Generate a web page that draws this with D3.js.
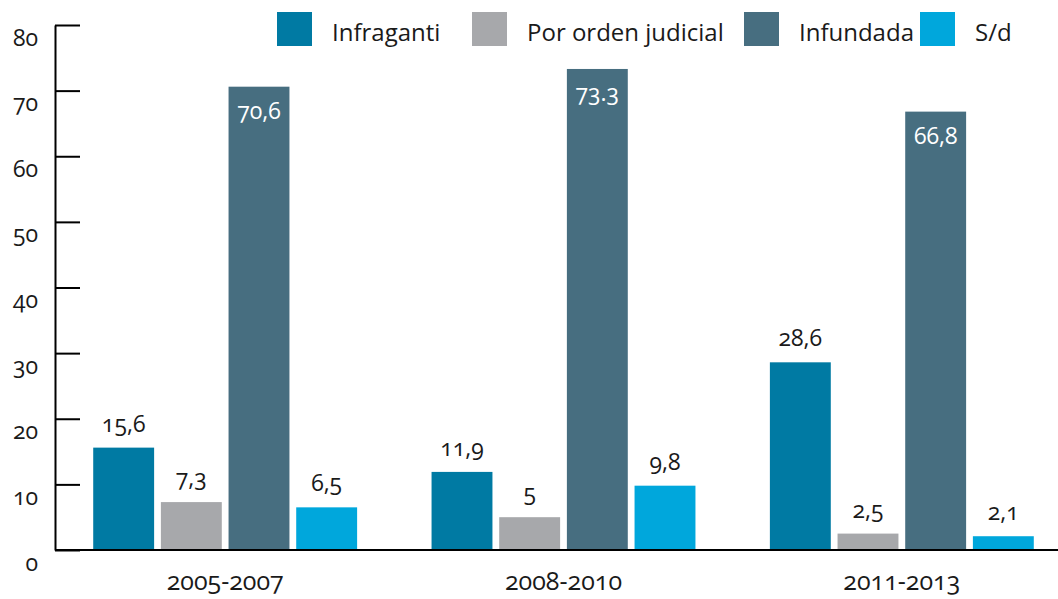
<!DOCTYPE html>
<html>
<head>
<meta charset="utf-8">
<script src="https://cdn.jsdelivr.net/npm/d3@7"></script>
<style>
body { margin: 0; background: #fff; }
text { font-family: "Open Sans", sans-serif; font-variant-numeric: oldstyle-nums; }
</style>
</head>
<body>
<script>
// data
var periods = ["2005-2007", "2008-2010", "2011-2013"];
var seriesNames = ["Infraganti", "Por orden judicial", "Infundada", "S/d"];
var seriesColors = ["#007aa3", "#a7a8ab", "#476e80", "#00a7dc"];
var infraganti = [15.6, 11.9, 28.6];
var porOrden = [7.3, 5, 2.5];
var infundada = [70.6, 73.3, 66.8];
var sinDato = [6.5, 9.8, 2.1];
var valueLabels = [
    ["15,6", "7,3", "70,6", "6,5"],
    ["11,9", "5", "73.3", "9,8"],
    ["28,6", "2,5", "66,8", "2,1"]
];
var yTicks = [0, 10, 20, 30, 40, 50, 60, 70, 80];

var series = [infraganti, porOrden, infundada, sinDato];

var svg = d3.select("body")
    .append("svg")
    .attr("width", 1058)
    .attr("height", 599)
    .style("display", "block");

var x0 = d3.scaleBand()
    .domain(periods)
    .range([56, 1071])
    .paddingInner(0.22)
    .paddingOuter(0.11);

var x1 = d3.scaleBand()
    .domain(d3.range(seriesNames.length))
    .range([0, x0.bandwidth()])
    .paddingInner(0.1);

var y = d3.scaleLinear()
    .domain([0, 80])
    .range([550, 25]);

//bars
var groups = svg.selectAll("g.period")
    .data(periods)
    .enter()
    .append("g")
    .attr("class", "period")
    .attr("transform", function (d) { return "translate(" + x0(d) + ",0)"; });

groups.each(function (p, pi) {
    var g = d3.select(this);
    var rows = series.map(function (s, si) {
        return {si: si, v: s[pi], label: valueLabels[pi][si]};
    });
    g.selectAll("rect")
        .data(rows)
        .enter()
        .append("rect")
        .attr("x", function (d) { return x1(d.si); })
        .attr("y", function (d) { return y(d.v); })
        .attr("width", x1.bandwidth())
        .attr("height", function (d) { return y(0) - y(d.v); })
        .attr("fill", function (d) { return seriesColors[d.si]; });

    g.selectAll("text.val")
        .data(rows)
        .enter()
        .append("text")
        .attr("class", "val")
        .attr("x", function (d) { return x1(d.si) + x1.bandwidth() / 2; })
        .attr("y", function (d) { return d.si === 2 ? y(d.v) + 32 : y(d.v) - 16; })
        .attr("text-anchor", "middle")
        .attr("fill", function (d) { return d.si === 2 ? "#fff" : "#1a1a1a"; })
        .style("font-size", "23px")
        .text(function (d) { return d.label; });
});

//y axis
var yAxis = d3.axisLeft(y)
    .tickValues(yTicks)
    .tickSizeInner(-25)
    .tickSizeOuter(0)
    .tickPadding(17)
    .tickFormat(d3.format("d"));

var ay = svg.append("g")
    .attr("transform", "translate(55,0)")
    .call(yAxis);
ay.select(".domain").attr("stroke", "#000").attr("stroke-width", 2);
ay.selectAll(".tick line").attr("stroke", "#000").attr("stroke-width", 2);
ay.selectAll(".tick text")
    .attr("dy", 20)
    .attr("fill", "#1a1a1a")
    .style("font-size", "23px");

//baseline
svg.append("line")
    .attr("x1", 55)
    .attr("x2", 1058)
    .attr("y1", y(0))
    .attr("y2", y(0))
    .attr("stroke", "#000")
    .attr("stroke-width", 2);

//category labels
svg.selectAll("text.cat")
    .data(periods)
    .enter()
    .append("text")
    .attr("class", "cat")
    .attr("x", function (d) { return x0(d) + x0.bandwidth() / 2; })
    .attr("y", 590)
    .attr("text-anchor", "middle")
    .attr("fill", "#1a1a1a")
    .style("font-size", "25px")
    .text(function (d) { return d; });

//legend
var legendX = [277, 472, 744, 920];
var legend = svg.selectAll("g.legend")
    .data(seriesNames)
    .enter()
    .append("g")
    .attr("class", "legend")
    .attr("transform", function (d, i) { return "translate(" + legendX[i] + ",12)"; });

legend.append("rect")
    .attr("width", 35)
    .attr("height", 34)
    .attr("fill", function (d, i) { return seriesColors[i]; });

legend.append("text")
    .attr("x", 55)
    .attr("y", 29)
    .attr("fill", "#1a1a1a")
    .style("font-size", "24px")
    .text(function (d) { return d; });
</script>
</body>
</html>
